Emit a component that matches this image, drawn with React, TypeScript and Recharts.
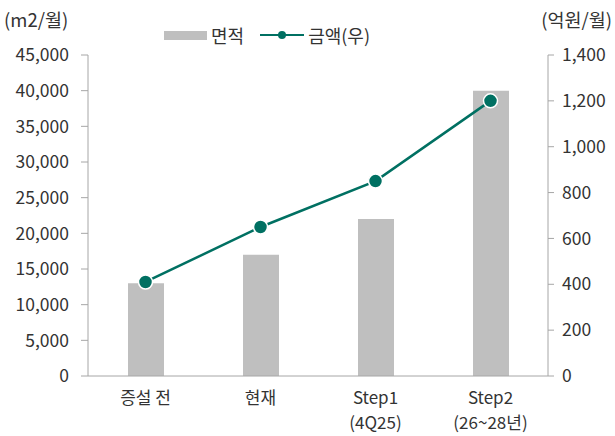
import { ComposedChart, Bar, Line, XAxis, YAxis } from 'recharts';

const categories = ['증설 전', '현재', 'Step1\n(4Q25)', 'Step2\n(26~28년)'];
const areaValues = [13000, 17000, 22000, 40000];
const amountValues = [410, 650, 850, 1200];
const leftTicks = [0, 5000, 10000, 15000, 20000, 25000, 30000, 35000, 40000, 45000];
const rightTicks = [0, 200, 400, 600, 800, 1000, 1200, 1400];
const edgeTicks = [0, 1, 2, 3, 4];

const data = categories.map((c, i) => ({ name: c, area: areaValues[i], amount: amountValues[i] }));

const FONT = '"Noto Sans CJK KR", "Noto Sans", sans-serif';
const TEXT = '#333';
const AXIS = '#A6A6A6';
const BAR = '#BFBFBF';
const TEAL = '#007062';

const fmt = (v: number) => v.toLocaleString('en-US');

function CatTick({ x, y, payload }: any) {
  const lines = String(payload.value).split('\n');
  return (
    <text x={x} y={y} textAnchor="middle" fill={TEXT} fontSize={17} fontFamily={FONT}>
      {lines.map((l, i) => (
        <tspan key={i} x={x} dy={i === 0 ? 20 : 25}>{l}</tspan>
      ))}
    </text>
  );
}

export default function App() {
  return (
    <div style={{ position: 'absolute', left: 0, top: 0, width: 615, height: 436, background: '#fff', fontFamily: FONT }}>
      <div style={{ position: 'absolute', left: 4, top: 6, fontSize: 18.5, color: TEXT }}>(m2/월)</div>
      <div style={{ position: 'absolute', right: 3, top: 6, fontSize: 18.5, color: TEXT }}>(억원/월)</div>
      <div style={{ position: 'absolute', left: 164, top: 22, display: 'flex', alignItems: 'center', fontSize: 18, color: TEXT }}>
        <span style={{ display: 'inline-block', width: 43, height: 9, background: BAR, marginRight: 4 }} />
        <span>면적</span>
        <svg width={44} height={12} style={{ marginLeft: 16, marginRight: 4 }}>
          <line x1={0} y1={6} x2={44} y2={6} stroke={TEAL} strokeWidth={2} />
          <circle cx={22} cy={6} r={4} fill={TEAL} />
        </svg>
        <span>금액(우)</span>
      </div>
      <ComposedChart width={615} height={436} data={data} margin={{ top: 55, right: 0, bottom: 0, left: 0 }}>
        <XAxis
          xAxisId="edge"
          type="number"
          dataKey="x"
          domain={[0, 4]}
          ticks={edgeTicks}
          height={0}
          axisLine={false}
          tickLine={{ stroke: AXIS }}
          tickSize={6}
          tick={() => <g />}
        />
        <XAxis
          dataKey="name"
          height={60}
          interval={0}
          axisLine={{ stroke: AXIS }}
          tickLine={false}
          tick={<CatTick />}
        />
        <YAxis
          yAxisId="left"
          width={88}
          domain={[0, 45000]}
          ticks={leftTicks}
          tickFormatter={fmt}
          axisLine={{ stroke: AXIS }}
          tickLine={{ stroke: AXIS }}
          tickSize={7}
          tickMargin={12}
          tick={{ fill: TEXT, fontSize: 17.5, fontFamily: FONT }}
        />
        <YAxis
          yAxisId="right"
          orientation="right"
          width={67}
          domain={[0, 1400]}
          ticks={rightTicks}
          tickFormatter={fmt}
          axisLine={{ stroke: AXIS }}
          tickLine={{ stroke: AXIS }}
          tickSize={6}
          tickMargin={8}
          tick={{ fill: TEXT, fontSize: 17.5, fontFamily: FONT }}
        />
        <Bar yAxisId="left" dataKey="area" fill={BAR} barSize={36} isAnimationActive={false} />
        <Line
          yAxisId="right"
          dataKey="amount"
          stroke={TEAL}
          strokeWidth={2.5}
          dot={{ r: 7, fill: TEAL, stroke: '#fff', strokeWidth: 1.5 }}
          isAnimationActive={false}
        />
      </ComposedChart>
    </div>
  );
}
